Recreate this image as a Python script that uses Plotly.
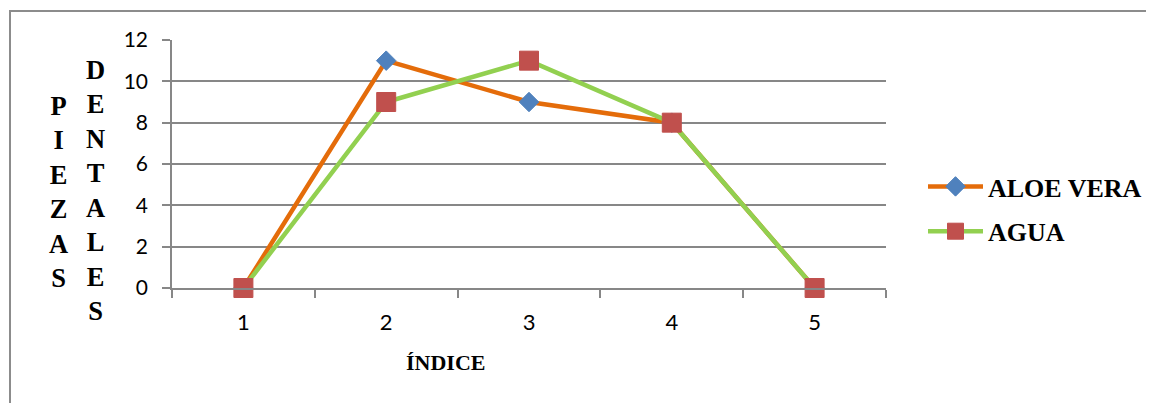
import plotly.graph_objects as go

categories = ["1", "2", "3", "4", "5"]
aloe_vera = [0, 11, 9, 8, 0]
agua = [0, 9, 11, 8, 0]
y_ticks = [0, 2, 4, 6, 8, 10, 12]
y_title_col1 = "PIEZAS"
y_title_col2 = "DENTALES"
x_title = "ÍNDICE"

# The page body has an 8px default margin: work in reference pixels, shift by OFF
OFF = 8
W, H = 1154, 403
PL, PR, PT, PB = 172, 886, 40, 288  # plot box in reference page pixels
L, T = PL - OFF, PT - OFF
R, B = W - (PR - OFF), H - (PB - OFF)
PW, PH = PR - PL, PB - PT


def px_x(x):
    return (x - PL) / PW


def px_y(y):
    return (PB - y) / PH


GRID = "#878787"
SERIF = "Liberation Serif"
SANS = "Lato"

fig = go.Figure()
fig.add_trace(go.Scatter(
    x=categories, y=aloe_vera, name="ALOE VERA", mode="lines+markers",
    line=dict(color="#E46C0A", width=4.5),
    marker=dict(symbol="diamond", size=15, color="#4F81BD",
                line=dict(color="#4F81BD", width=1)),
    legendgroup="a", cliponaxis=False,
))
fig.add_trace(go.Scatter(
    x=categories, y=agua, name="AGUA", mode="lines+markers",
    line=dict(color="#92D050", width=4.5),
    marker=dict(symbol="square", size=19, color="#C0504D",
                line=dict(color="#C0504D", width=1)),
    legendgroup="b", cliponaxis=False,
))

fig.update_layout(
    width=W, height=H,
    margin=dict(l=L, r=R, t=T, b=B, pad=0, autoexpand=False),
    paper_bgcolor="white", plot_bgcolor="white",
    showlegend=True,
    legend=dict(
        x=px_x(923), y=px_y(209), xanchor="left", yanchor="middle",
        font=dict(family=SERIF, size=26, color="black", weight="bold"),
        itemwidth=55, tracegroupgap=8, bgcolor="rgba(0,0,0,0)",
    ),
    xaxis=dict(
        type="category", tickson="boundaries", range=[-0.5, 4.5],
        showline=True, linecolor=GRID, linewidth=1.5,
        ticks="outside", ticklen=8, tickcolor=GRID, tickwidth=1.5,
        showgrid=False, zeroline=False, automargin=False,
        ticklabelstandoff=14,
        tickfont=dict(family=SANS, size=22, color="black"),
    ),
    yaxis=dict(
        range=[0, 12], tickvals=y_ticks,
        showline=True, linecolor=GRID, linewidth=1.5,
        ticks="outside", ticklen=8, tickcolor=GRID, tickwidth=1.5,
        showgrid=True, gridcolor=GRID, gridwidth=1.5,
        zeroline=False, automargin=False,
        ticklabelstandoff=10,
        tickfont=dict(family=SANS, size=21, color="black"),
    ),
)

# Outer chart-area border (cropped at right/bottom in the reference)
fig.add_shape(type="rect", xref="paper", yref="paper",
              x0=px_x(10), x1=px_x(1180), y0=px_y(430), y1=px_y(11),
              line=dict(color="#8c8c8c", width=2), fillcolor="rgba(0,0,0,0)",
              layer="below")

fig.add_annotation(
    text="<br>".join(y_title_col1), xref="paper", yref="paper",
    x=px_x(58), y=px_y(192), xanchor="center", yanchor="middle",
    showarrow=False, align="center",
    font=dict(family=SERIF, size=26.5, color="black", weight="bold"),
)
fig.add_annotation(
    text="<br>".join(y_title_col2), xref="paper", yref="paper",
    x=px_x(95), y=px_y(190), xanchor="center", yanchor="middle",
    showarrow=False, align="center",
    font=dict(family=SERIF, size=26.5, color="black", weight="bold"),
)
fig.add_annotation(
    text=x_title, xref="paper", yref="paper",
    x=px_x(445), y=px_y(362), xanchor="center", yanchor="middle",
    showarrow=False,
    font=dict(family=SERIF, size=22, color="black", weight="bold"),
)

fig.write_html("out.html")
